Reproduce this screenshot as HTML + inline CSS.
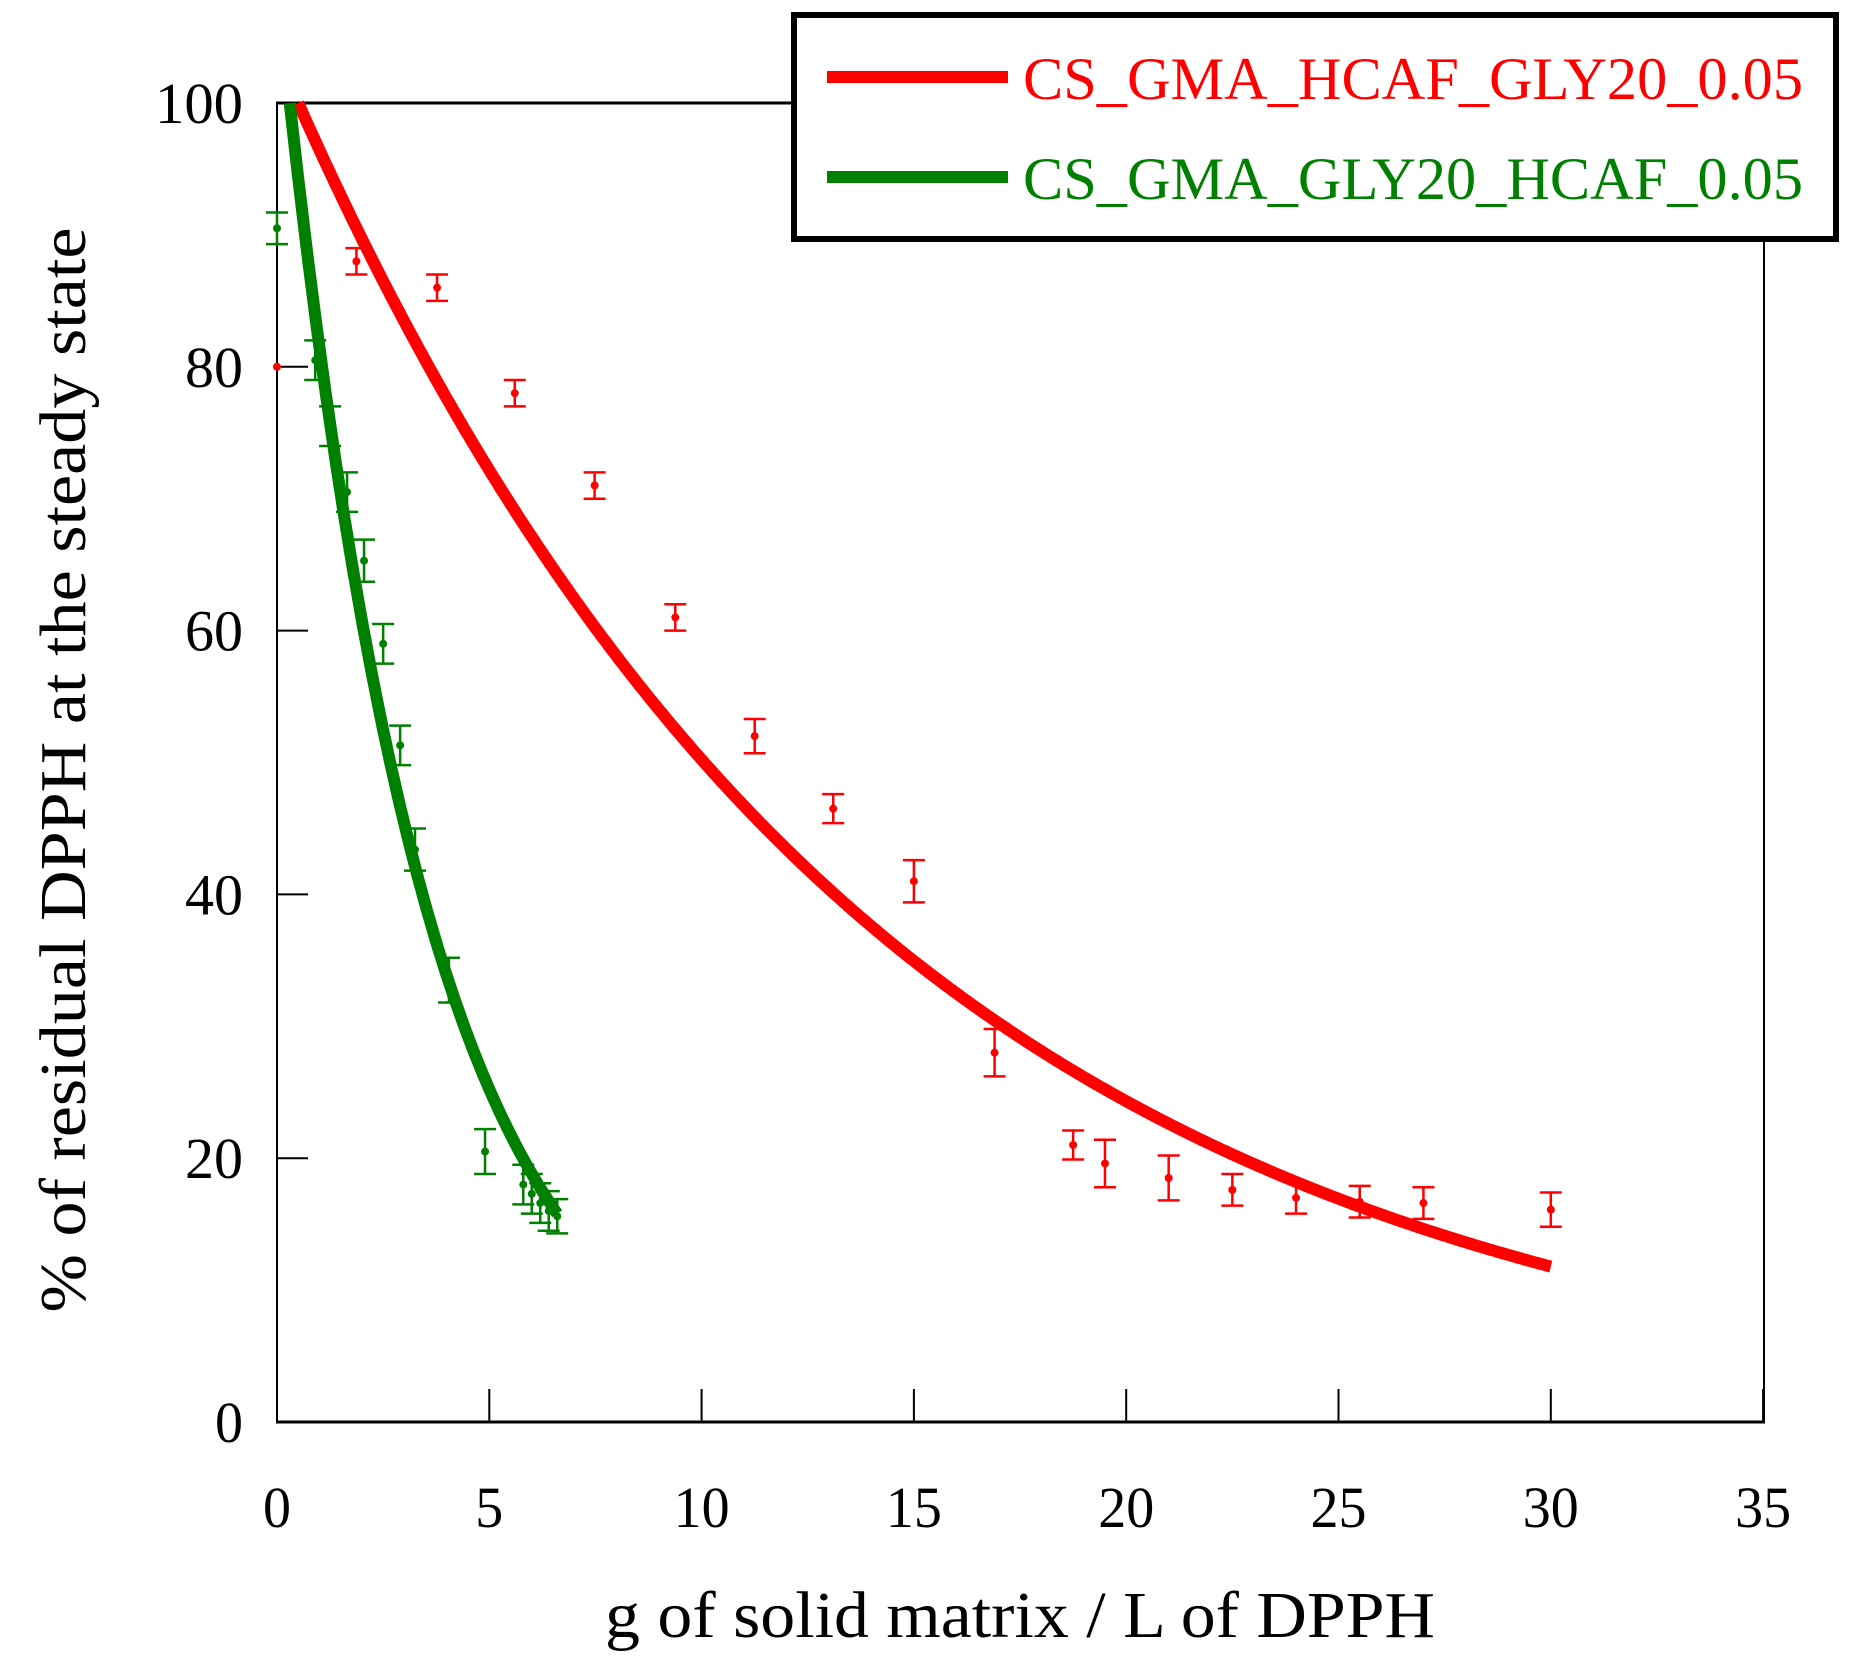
<!DOCTYPE html>
<html><head><meta charset="utf-8"><style>
html,body{margin:0;padding:0;background:#fff}
svg{display:block}
text{font-family:"Liberation Serif",serif}
</style></head><body>
<svg id="s" width="1861" height="1658" viewBox="0 0 1861 1658" xmlns="http://www.w3.org/2000/svg">
<rect width="1861" height="1658" fill="#fff"/>
<g id="ax"></g>
<g id="data"></g>
<rect x="794" y="15" width="1042" height="224" fill="#fff" stroke="#000" stroke-width="6"/>
<line x1="827" y1="77" x2="1008" y2="77" stroke="#ff0000" stroke-width="12"/>
<line x1="827" y1="177" x2="1008" y2="177" stroke="#008000" stroke-width="12"/>
<text x="1023" y="99" font-size="60" fill="#ff0000" textLength="780" lengthAdjust="spacingAndGlyphs">CS_GMA_HCAF_GLY20_0.05</text>
<text x="1023" y="199" font-size="60" fill="#008000" textLength="780" lengthAdjust="spacingAndGlyphs">CS_GMA_GLY20_HCAF_0.05</text>
<text x="1020" y="1637" font-size="66" text-anchor="middle" textLength="830" lengthAdjust="spacingAndGlyphs">g of solid matrix / L of DPPH</text>
<text transform="translate(85,770) rotate(-90)" font-size="66" text-anchor="middle" textLength="1085" lengthAdjust="spacingAndGlyphs">% of residual DPPH at the steady state</text>
</svg>
<script>
var X=function(v){return 277+v*42.46},Y=function(v){return 1422-v*13.19};
var ax=document.getElementById('ax'),dg=document.getElementById('data'),h='';
h+='<line x1="277" y1="103" x2="277" y2="1422" stroke="#000" stroke-width="2"/>';
h+='<line x1="1764" y1="103" x2="1764" y2="1422" stroke="#000" stroke-width="2"/>';
h+='<line x1="276" y1="103" x2="1765" y2="103" stroke="#000" stroke-width="3"/>';
h+='<line x1="276" y1="1422" x2="1765" y2="1422" stroke="#000" stroke-width="3"/>';
for(var i=0;i<=35;i+=5){var x=X(i);h+='<line x1="'+x+'" y1="1422" x2="'+x+'" y2="1389" stroke="#000" stroke-width="2"/>';
h+='<text x="'+x+'" y="1527" font-size="58" text-anchor="middle" textLength="'+(i<10?28:56)+'" lengthAdjust="spacingAndGlyphs">'+i+'</text>';}
for(var j=0;j<=100;j+=20){var y=Y(j);h+='<line x1="277" y1="'+y+'" x2="308" y2="'+y+'" stroke="#000" stroke-width="2"/>';
h+='<text x="243" y="'+(y+20)+'" font-size="58" text-anchor="end" textLength="'+(j==0?28:(j==100?88:58))+'" lengthAdjust="spacingAndGlyphs">'+j+'</text>';}
ax.innerHTML=h;
var g='';
function curve(x0,x1,k,c){var p='';for(var x=x0;x<=x1+1e-9;x+=0.05){p+=(p?'L':'M')+X(x).toFixed(1)+','+Y(100*Math.exp(-k*(x-x0))).toFixed(1);}return '<path d="'+p+'" fill="none" stroke="'+c+'" stroke-width="12"/>';}
function pts(a,c,sw){var s='';a.forEach(function(d){var x=X(d[0]),y=Y(d[1]),e=d[2]*13.19;
if(e>0){s+='<path d="M'+(x-11)+','+(y-e)+'H'+(x+11)+'M'+x+','+(y-e)+'V'+(y+e)+'M'+(x-11)+','+(y+e)+'H'+(x+11)+'" stroke="'+c+'" stroke-width="'+sw+'" fill="none"/>';}
s+='<circle cx="'+x+'" cy="'+y+'" r="4" fill="'+c+'"/>';});return s;}
var red=[[0,80,0],[1.87,88,1],[3.77,86,1],[5.6,78,1],[7.48,71,1],[9.38,61,1],[11.25,52,1.3],[13.1,46.5,1.1],[15,41,1.6],[16.9,28,1.8],[18.75,21,1.1],[19.5,19.6,1.8],[21,18.5,1.7],[22.5,17.6,1.2],[24,17,1.2],[25.5,16.7,1.2],[27,16.6,1.2],[30,16.1,1.3]];
var grn=[[0,90.5,1.2],[0.9,80.5,1.5],[1.25,75.5,1.5],[1.65,70.5,1.5],[2.05,65.3,1.6],[2.5,59,1.5],[2.9,51.3,1.5],[3.25,43.4,1.6],[4.05,33.5,1.7],[4.9,20.5,1.7],[5.8,18,1.5],[6.0,17.3,1.5],[6.2,16.6,1.5],[6.4,16,1.5],[6.6,15.6,1.3]];
g+=pts(red,'#ff0000',2.5)+pts(grn,'#008000',2.5);
g+=curve(0.5,30,0.0725,'#ff0000');
g+=curve(0.3,6.6,0.293,'#008000');
dg.innerHTML=g;
</script>
</body></html>
